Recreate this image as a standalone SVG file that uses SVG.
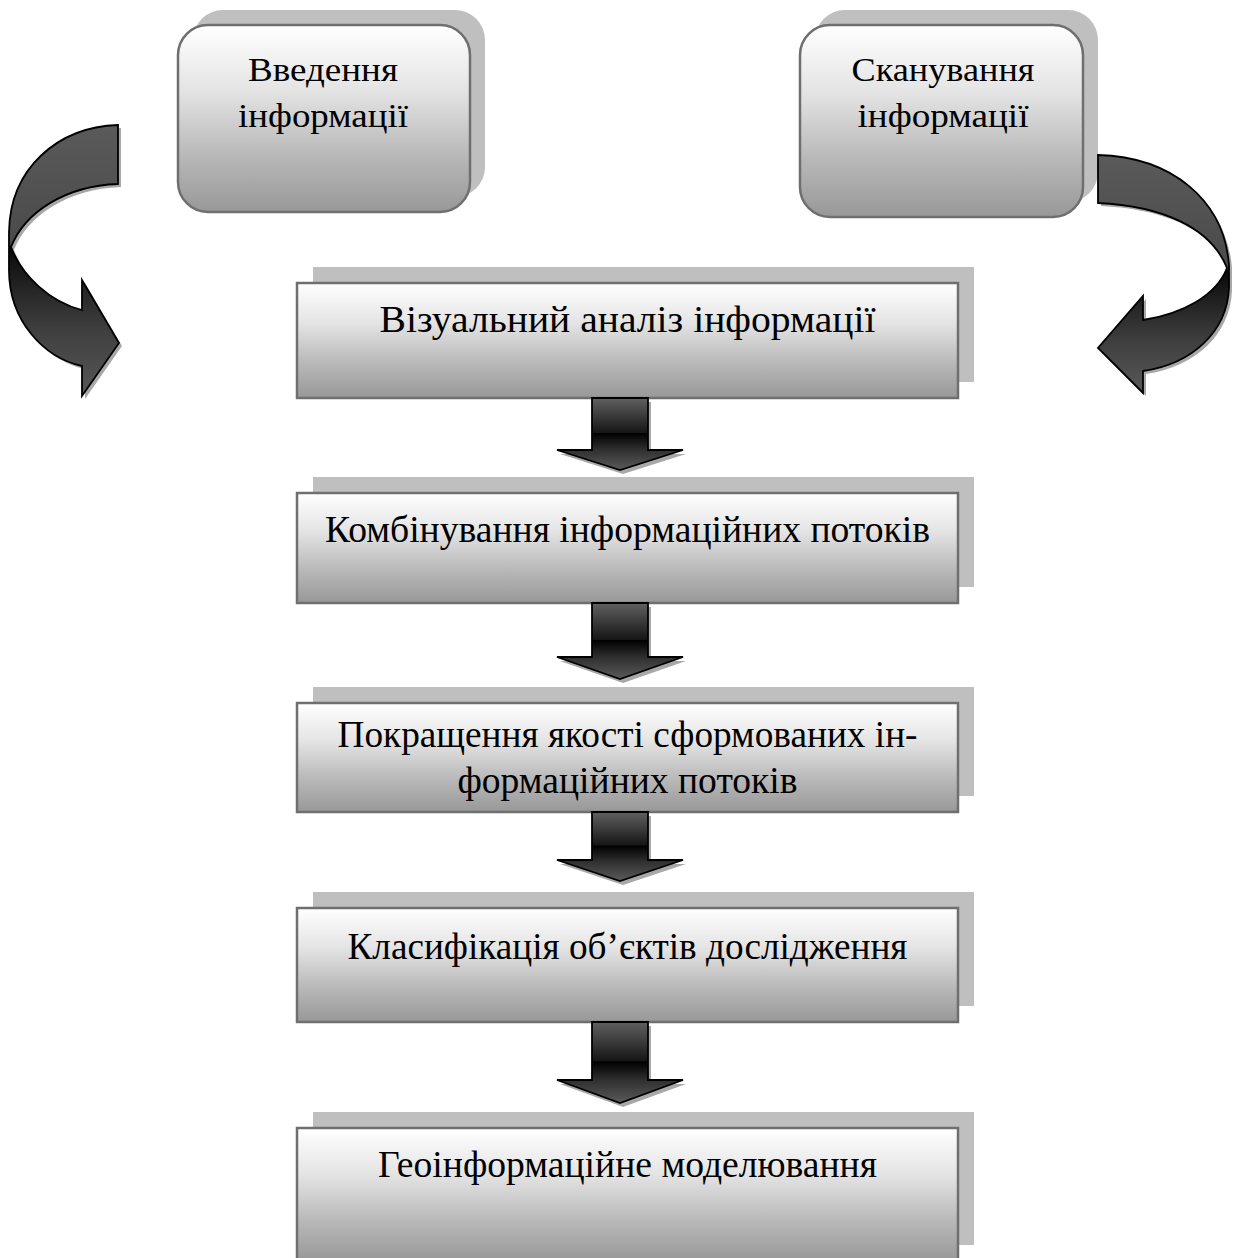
<svg xmlns="http://www.w3.org/2000/svg" width="1233" height="1258" viewBox="0 0 1233 1258">
  <style>
    .shadow { fill: #bfbfbf; }
    .box { fill: url(#boxGrad); stroke: #6f6f6f; stroke-width: 2.5; }
    .t { font-family: "Liberation Serif", "Times New Roman", serif; fill: #000; text-anchor: middle; }
    .t27 { font-size: 33px; }
    .t35 { font-size: 38px; }
    .arrow { fill: url(#arrowGrad); stroke: #000; stroke-width: 1.8; stroke-linejoin: miter; }
    .ashadow { fill: #a8a8a8; }
  </style>
  <defs>
    <linearGradient id="boxGrad" x1="0" y1="0" x2="0" y2="1">
      <stop offset="0" stop-color="#ffffff"/>
      <stop offset="0.35" stop-color="#e4e4e4"/>
      <stop offset="0.7" stop-color="#b8b8b8"/>
      <stop offset="1" stop-color="#989898"/>
    </linearGradient>
    <linearGradient id="arrowGrad" x1="0" y1="0" x2="0" y2="1">
      <stop offset="0" stop-color="#606060"/>
      <stop offset="0.48" stop-color="#161616"/>
      <stop offset="0.49" stop-color="#000000"/>
      <stop offset="0.72" stop-color="#303030"/>
      <stop offset="1" stop-color="#5a5a5a"/>
    </linearGradient>
    <linearGradient id="curveL" gradientUnits="userSpaceOnUse" x1="0" y1="125" x2="0" y2="396">
      <stop offset="0" stop-color="#5a5a5a"/>
      <stop offset="0.44" stop-color="#4a4a4a"/>
      <stop offset="0.455" stop-color="#0a0a0a"/>
      <stop offset="0.75" stop-color="#3e3e3e"/>
      <stop offset="1" stop-color="#585858"/>
    </linearGradient>
    <linearGradient id="curveR" gradientUnits="userSpaceOnUse" x1="0" y1="155" x2="0" y2="392">
      <stop offset="0" stop-color="#5a5a5a"/>
      <stop offset="0.475" stop-color="#4a4a4a"/>
      <stop offset="0.49" stop-color="#0a0a0a"/>
      <stop offset="0.78" stop-color="#3e3e3e"/>
      <stop offset="1" stop-color="#585858"/>
    </linearGradient>
  </defs>

  <!-- Top nodes -->
  <g id="node-vvedennia">
    <rect class="shadow" x="193" y="10" width="292" height="187" rx="30"/>
    <rect class="box" x="178" y="25" width="292" height="187" rx="30"/>
    <text class="t t27" x="323" y="81" textLength="150" lengthAdjust="spacingAndGlyphs">Введення</text>
    <text class="t t27" x="323" y="127" textLength="170" lengthAdjust="spacingAndGlyphs">інформації</text>
  </g>
  <g id="node-skanuvannia">
    <rect class="shadow" x="815" y="10" width="283" height="192" rx="30"/>
    <rect class="box" x="800" y="25" width="283" height="192" rx="30"/>
    <text class="t t27" x="943" y="81" textLength="183" lengthAdjust="spacingAndGlyphs">Сканування</text>
    <text class="t t27" x="943" y="127" textLength="171" lengthAdjust="spacingAndGlyphs">інформації</text>
  </g>

  <!-- Flow nodes -->
  <g id="node-analiz">
    <rect class="shadow" x="313" y="267" width="661" height="115"/>
    <rect class="box" x="297" y="283" width="661" height="115"/>
    <text class="t t35" x="627.5" y="332" textLength="496" lengthAdjust="spacingAndGlyphs">Візуальний аналіз інформації</text>
  </g>
  <g id="node-kombinuvannia">
    <rect class="shadow" x="313" y="477" width="661" height="110"/>
    <rect class="box" x="297" y="493" width="661" height="110"/>
    <text class="t t35" x="627.5" y="542" textLength="605" lengthAdjust="spacingAndGlyphs">Комбінування інформаційних потоків</text>
  </g>
  <g id="node-pokrashchennia">
    <rect class="shadow" x="313" y="687" width="661" height="109"/>
    <rect class="box" x="297" y="703" width="661" height="109"/>
    <text class="t t35" x="627.5" y="747" textLength="580" lengthAdjust="spacingAndGlyphs">Покращення якості сформованих ін-</text>
    <text class="t t35" x="627.5" y="793" textLength="340" lengthAdjust="spacingAndGlyphs">формаційних потоків</text>
  </g>
  <g id="node-klasyfikatsiia">
    <rect class="shadow" x="313" y="892" width="661" height="114"/>
    <rect class="box" x="297" y="908" width="661" height="114"/>
    <text class="t t35" x="627.5" y="959" textLength="560" lengthAdjust="spacingAndGlyphs">Класифікація об’єктів дослідження</text>
  </g>
  <g id="node-modeliuvannia">
    <rect class="shadow" x="313" y="1112" width="661" height="133"/>
    <rect class="box" x="297" y="1128" width="661" height="133"/>
    <text class="t t35" x="627.5" y="1177" textLength="499" lengthAdjust="spacingAndGlyphs">Геоінформаційне моделювання</text>
  </g>

  <!-- Connectors -->
  <g id="connectors">
    <!-- curved left arrow -->
    <path class="ashadow" transform="translate(3,3)" d="M118,125 C58,127 10,168 9,232 L9,270 C9,322 45,358 82,366 L82,396 L119,343 L82,280 L82,310 C50,302 22,276 11,247 C25,212 65,186 118,184 Z"/>
    <path id="arrow-left" d="M118,125 C58,127 10,168 9,232 L9,270 C9,322 45,358 82,366 L82,396 L119,343 L82,280 L82,310 C50,302 22,276 11,247 C25,212 65,186 118,184 Z" fill="url(#curveL)" stroke="#000" stroke-width="1.8"/>
    <!-- curved right arrow -->
    <path class="ashadow" transform="translate(3,3)" d="M1098,155 C1172,157 1224,200 1229,265 L1229,288 C1227,332 1192,364 1143,371 L1143,393 L1098,348 L1143,296 L1143,320 C1182,314 1216,296 1227,268 C1210,226 1160,206 1098,203 Z"/>
    <path id="arrow-right" d="M1098,155 C1172,157 1224,200 1229,265 L1229,288 C1227,332 1192,364 1143,371 L1143,393 L1098,348 L1143,296 L1143,320 C1182,314 1216,296 1227,268 C1210,226 1160,206 1098,203 Z" fill="url(#curveR)" stroke="#000" stroke-width="1.8"/>

    <!-- down arrows -->
    <path class="ashadow" transform="translate(3,4)" d="M592,398 L648,398 L648,450 L683,450 L620,470 L557,450 L592,450 Z"/>
    <path class="arrow" d="M592,398 L648,398 L648,450 L683,450 L620,470 L557,450 L592,450 Z"/>

    <path class="ashadow" transform="translate(3,4)" d="M592,603 L648,603 L648,657 L683,657 L620,679 L557,657 L592,657 Z"/>
    <path class="arrow" d="M592,603 L648,603 L648,657 L683,657 L620,679 L557,657 L592,657 Z"/>

    <path class="ashadow" transform="translate(3,4)" d="M592,812 L648,812 L648,860 L683,860 L620,881 L557,860 L592,860 Z"/>
    <path class="arrow" d="M592,812 L648,812 L648,860 L683,860 L620,881 L557,860 L592,860 Z"/>

    <path class="ashadow" transform="translate(3,4)" d="M592,1022 L648,1022 L648,1080 L683,1080 L620,1103 L557,1080 L592,1080 Z"/>
    <path class="arrow" d="M592,1022 L648,1022 L648,1080 L683,1080 L620,1103 L557,1080 L592,1080 Z"/>
  </g>
</svg>
